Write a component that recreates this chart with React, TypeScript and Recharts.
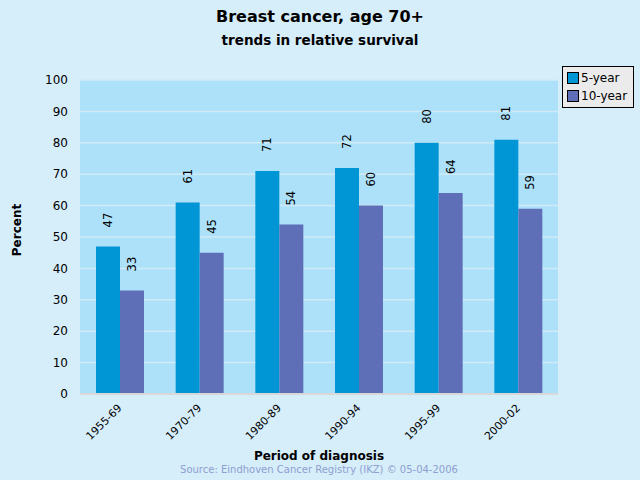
import { BarChart, Bar, XAxis, YAxis, CartesianGrid, LabelList } from "recharts";

const periods = ["1955-69", "1970-79", "1980-89", "1990-94", "1995-99", "2000-02"];
const fiveYear = [47, 61, 71, 72, 80, 81];
const tenYear = [33, 45, 54, 60, 64, 59];
const yTicks = [0, 10, 20, 30, 40, 50, 60, 70, 80, 90, 100];

const data = periods.map((period, i) => ({
  period,
  five: fiveYear[i],
  ten: tenYear[i],
}));

const FONT = "'DejaVu Sans', Verdana, sans-serif";

const RotatedTick = ({ x, y, payload }: any) => (
  <g transform={`translate(${x - 3},${y + 1})`}>
    <text
      transform="rotate(-45)"
      textAnchor="end"
      dy={8}
      fontSize={10.8}
      fontFamily={FONT}
      fill="#000"
    >
      {payload.value}
    </text>
  </g>
);

const ValueLabel = ({ x, y, width, value }: any) => {
  const cx = x + width / 2;
  const ty = y - 19;
  return (
    <text
      x={cx}
      y={ty}
      transform={`rotate(-90, ${cx}, ${ty})`}
      textAnchor="start"
      dominantBaseline="central"
      fontSize={11.5}
      fontFamily={FONT}
      fill="#000"
    >
      {value}
    </text>
  );
};

const legendItems = [
  { name: "5-year", color: "#0096D6" },
  { name: "10-year", color: "#5E6FB7" },
];

export default function App() {
  return (
    <div
      style={{
        position: "absolute",
        top: 0,
        left: 0,
        width: 640,
        height: 480,
        background: "#D6EDFA",
        fontFamily: FONT,
        overflow: "hidden",
      }}
    >
      <div
        style={{
          position: "absolute",
          top: 7,
          width: 640,
          textAlign: "center",
          fontWeight: "bold",
          fontSize: 16,
        }}
      >
        Breast cancer, age 70+
      </div>
      <div
        style={{
          position: "absolute",
          top: 32,
          width: 640,
          textAlign: "center",
          fontWeight: "bold",
          fontSize: 13.5,
        }}
      >
        trends in relative survival
      </div>
      <div
        style={{
          position: "absolute",
          left: 17,
          top: 230,
          transform: "translate(-50%, -50%) rotate(-90deg)",
          fontWeight: "bold",
          fontSize: 12,
        }}
      >
        Percent
      </div>
      <div
        style={{
          position: "absolute",
          top: 449,
          left: 80,
          width: 478,
          textAlign: "center",
          fontWeight: "bold",
          fontSize: 12,
        }}
      >
        Period of diagnosis
      </div>
      <div
        style={{
          position: "absolute",
          top: 464,
          left: 80,
          width: 478,
          textAlign: "center",
          fontSize: 10,
          color: "#8E9FD0",
        }}
      >
        Source: Eindhoven Cancer Registry (IKZ) © 05-04-2006
      </div>
      <div
        style={{
          position: "absolute",
          top: 66,
          left: 562,
          width: 62,
          background: "#EBEBEB",
          border: "1px solid #000",
          padding: "2px 4px",
          fontSize: 12,
          lineHeight: "18px",
        }}
      >
        {legendItems.map((item) => (
          <div key={item.name} style={{ display: "flex", alignItems: "center" }}>
            <span
              style={{
                display: "inline-block",
                width: 10,
                height: 10,
                background: item.color,
                border: "1px solid #000",
                marginRight: 2,
              }}
            />
            {item.name}
          </div>
        ))}
      </div>
      <div style={{ position: "absolute", top: 0, left: 0 }}>
        <BarChart
          width={640}
          height={480}
          data={data}
          margin={{ top: 80, right: 82, left: 40, bottom: 36 }}
          barGap={0}
        >
          <CartesianGrid
            vertical={false}
            stroke="#D0EAF6"
            fill="#ADE1FA"
            fillOpacity={1}
            strokeWidth={1.5}
          />
          <XAxis
            dataKey="period"
            height={50}
            tick={<RotatedTick />}
            tickLine={false}
            axisLine={{ stroke: "#D8D8D8", strokeWidth: 2 }}
            interval={0}
          />
          <YAxis
            width={40}
            domain={[0, 100]}
            ticks={yTicks}
            tick={{ fontSize: 12, fontFamily: FONT, fill: "#000" }}
            tickLine={false}
            axisLine={false}
            tickMargin={6}
          />
          <Bar dataKey="five" name="5-year" fill="#0096D6" barSize={24} isAnimationActive={false}>
            <LabelList dataKey="five" content={<ValueLabel />} />
          </Bar>
          <Bar dataKey="ten" name="10-year" fill="#5E6FB7" barSize={24} isAnimationActive={false}>
            <LabelList dataKey="ten" content={<ValueLabel />} />
          </Bar>
        </BarChart>
      </div>
    </div>
  );
}
